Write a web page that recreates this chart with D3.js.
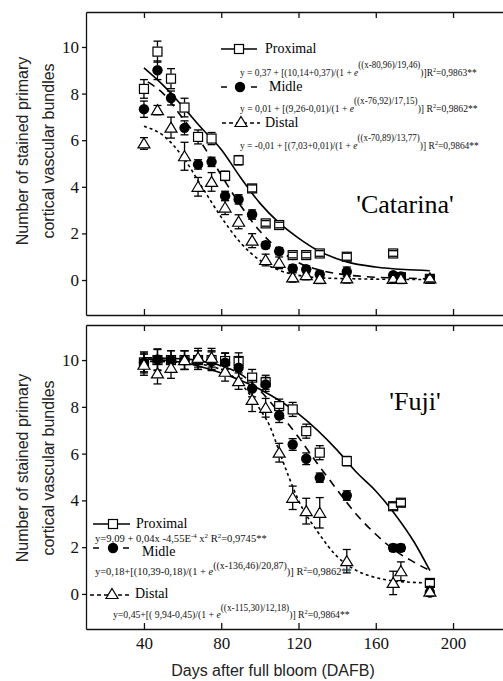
<!DOCTYPE html>
<html>
<head>
<meta charset="utf-8">
<script src="https://cdn.jsdelivr.net/npm/d3@7"></script>
<style>
body{margin:0;background:#fff;}
svg{display:block;}
</style>
</head>
<body>
<div id="chart"></div>
<script>
// sampling days (DAFB)
var days = [40, 47, 54, 61, 68, 75, 82, 89, 96, 103, 110, 117, 124, 131, 145, 169, 173, 188];

// 'Catarina'
var catProx    = [8.2, 9.8, 8.64, 7.4, 6.14, 6.07, 4.47, 5.14, 3.93, 2.43, 2.36, 1.07, 1.07, 1.14, 1.0, 1.14, 0.12, 0.05];
var catProxErr = [0.4, 0.45, 0.43, 0.4, 0.3, 0.26, 0.2, 0.2, 0.15, 0.12, 0.12, 0.12, 0.12, 0.12, 0.15, 0.12, 0.12, 0.1];
var catMid     = [7.33, 9.0, 7.81, 6.53, 4.96, 5.07, 3.61, 3.46, 2.81, 1.5, 1.24, 0.5, 0.46, 0.24, 0.36, 0.21, 0.15, 0.05];
var catMidErr  = [0.35, 0.4, 0.3, 0.3, 0.2, 0.2, 0.2, 0.2, 0.2, 0.15, 0.15, 0.15, 0.15, 0.15, 0.2, 0.1, 0.1, 0.1];
var catDist    = [5.86, 7.29, 6.54, 5.31, 4.0, 4.21, 3.11, 2.5, 1.69, 0.86, 0.74, 0.11, 0.21, 0.05, 0.07, 0.05, 0.05, 0.07];
var catDistErr = [0.25, 0.2, 0.45, 0.6, 0.4, 0.4, 0.3, 0.3, 0.3, 0.25, 0.25, 0.2, 0.2, 0.2, 0.2, 0.15, 0.2, 0.15];

// 'Fuji'
var fujiProx    = [9.9, 10.0, 10.0, 10.0, 10.0, 10.0, 9.96, 9.96, 9.25, 9.05, 8.03, 7.89, 6.96, 6.04, 5.68, 3.75, 3.9, 0.47];
var fujiProxErr = [0.45, 0.45, 0.4, 0.4, 0.4, 0.4, 0.35, 0.35, 0.35, 0.3, 0.3, 0.3, 0.3, 0.3, 0.2, 0.15, 0.15, 0.15];
var fujiMid     = [9.9, 10.03, 10.0, 10.0, 10.0, 9.95, 9.89, 9.67, 8.78, 8.96, 7.63, 6.39, 5.78, 4.97, 4.21, 1.97, 1.97, 0.06];
var fujiMidErr  = [0.4, 0.45, 0.4, 0.4, 0.4, 0.4, 0.4, 0.45, 0.35, 0.3, 0.3, 0.25, 0.25, 0.2, 0.2, 0.15, 0.15, 0.15];
var fujiDist    = [9.8, 9.43, 9.67, 10.0, 10.1, 10.1, 9.5, 9.1, 8.3, 7.96, 6.04, 4.11, 3.54, 3.47, 1.4, 0.47, 0.97, 0.1];
var fujiDistErr = [0.45, 0.45, 0.45, 0.4, 0.4, 0.4, 0.4, 0.35, 0.5, 0.4, 0.4, 0.5, 0.55, 0.65, 0.5, 0.5, 0.4, 0.2];

// fitted curves
var catProxCurveDays = [40, 50, 60, 70, 80, 90, 100, 110, 120, 130, 145, 160, 175, 188];
var catProxCurve     = [9.1, 8.35, 7.45, 6.5, 5.6, 4.4, 3.3, 2.45, 1.8, 1.27, 0.78, 0.56, 0.45, 0.4];
var catMidCurveDays  = [42, 50, 60, 70, 80, 90, 100, 110, 120, 130, 145, 160, 175, 188];
var catMidCurve      = [8.5, 8.0, 6.95, 5.85, 4.5, 3.2, 2.1, 1.3, 0.75, 0.45, 0.22, 0.12, 0.08, 0.05];
var catDistCurveDays = [40, 50, 60, 70, 80, 90, 100, 110, 120, 130, 150, 170, 188];
var catDistCurve     = [6.6, 6.2, 5.3, 4.0, 2.7, 1.6, 0.85, 0.42, 0.2, 0.1, 0.05, 0.03, 0.02];

var fujiProxCurveDays = [40, 60, 80, 100, 120, 140, 150, 160, 170, 180, 188];
var fujiProxCurve     = [10.05, 9.9, 9.45, 8.75, 7.7, 6.15, 5.2, 4.4, 3.4, 2.2, 1.0];
var fujiMidCurveDays  = [40, 60, 80, 90, 100, 110, 120, 130, 140, 150, 160, 170, 180, 188];
var fujiMidCurve      = [10.1, 10.05, 9.75, 9.4, 8.7, 7.75, 6.7, 5.55, 4.45, 3.4, 2.55, 1.85, 1.35, 1.0];
var fujiDistCurveDays = [40, 60, 80, 90, 100, 105, 110, 115, 120, 130, 140, 150, 160, 170, 188];
var fujiDistCurve     = [9.95, 9.9, 9.6, 9.0, 7.9, 7.2, 6.1, 5.0, 4.0, 2.65, 1.6, 1.0, 0.7, 0.55, 0.47];

var xTicks = [40, 80, 120, 160, 200];
var yTicks = [0, 2, 4, 6, 8, 10];
var seriesNames = ["Proximal", "Midle", "Distal"];

// equation texts: [text, kind] kind: n normal, e italic e, s superscript, r small superscript
var catEqs = [
  [["y = 0,37 + [(10,14+0,37)/(1 + ","n"],["e","e"],["((x-80,96)/19,46)","s"],[")]R","n"],["2","r"],["=0,9863**","n"]],
  [["y = 0,01 + [(9,26-0,01)/(1 + ","n"],["e","e"],["((x-76,92)/17,15)","s"],[")]   R","n"],["2","r"],["=0,9862**","n"]],
  [["y = -0,01 + [(7,03+0,01)/(1 + ","n"],["e","e"],["((x-70,89)/13,77)","s"],[")] R","n"],["2","r"],["=0,9864**","n"]]
];
var fujiEqs = [
  [["y=9,09 + 0,04x -4,55E","n"],["-4","r"],[" x","n"],["2","r"],["  R","n"],["2","r"],["=0,9745**","n"]],
  [["y=0,18+[(10,39-0,18)/(1 + ","n"],["e","e"],["((x-136,46)/20,87)","s"],[")] R","n"],["2","r"],["=0,9862**","n"]],
  [["y=0,45+[( 9,94-0,45)/(1 + ","n"],["e","e"],["((x-115,30)/12,18)","s"],[")]  R","n"],["2","r"],["=0,9864**","n"]]
];

var W = 503, H = 681;
var serif = "'Liberation Serif', 'Times New Roman', serif";
var sans = "'Liberation Sans', Arial, sans-serif";

var svg = d3.select("#chart").append("svg")
  .attr("width", W)
  .attr("height", H);

var x = d3.scaleLinear().domain([10, 230]).range([86, 511]);
var yTop = d3.scaleLinear().domain([-1.5, 11.5]).range([315, 12]);
var yBot = d3.scaleLinear().domain([-1.5, 11.5]).range([629, 325]);

function marker(g, type, cx, cy){
  if(type == 0){
    g.append("rect").attr("x", cx - 4.5).attr("y", cy - 4.5).attr("width", 9).attr("height", 9)
      .attr("fill", "#fff").attr("stroke", "#000").attr("stroke-width", 1.2);
  }
  else if(type == 1){
    g.append("circle").attr("cx", cx).attr("cy", cy).attr("r", 5.2).attr("fill", "#000");
  }
  else{
    g.append("path")
      .attr("d", "M" + cx + "," + (cy - 5.5) + "L" + (cx + 6) + "," + (cy + 4.5) + "L" + (cx - 6) + "," + (cy + 4.5) + "Z")
      .attr("fill", "#fff").attr("stroke", "#000").attr("stroke-width", 1.2);
  }
}

var dashes = [null, "8,6", "3,3"];

function drawPanel(y, vals, errs, cDays, cVals, showLabels){
  var g = svg.append("g");

  // axes
  var left = g.append("g").attr("transform", "translate(86,0)")
    .call(d3.axisLeft(y).tickValues(yTicks).tickSize(4).tickSizeOuter(0).tickPadding(3));
  left.attr("font-family", serif).attr("font-size", 17);
  left.selectAll("text").style("font-family", serif).style("font-size", "17px").attr("fill", "#111");

  var r = y.range();
  g.append("g").attr("transform", "translate(0," + r[1] + ")")
    .call(d3.axisBottom(x).tickValues(xTicks).tickSize(6).tickSizeOuter(0).tickFormat(""));
  var bottom = g.append("g").attr("transform", "translate(0," + r[0] + ")")
    .call(d3.axisBottom(x).tickValues(xTicks).tickSize(-6).tickSizeOuter(0).tickPadding(8)
      .tickFormat(showLabels ? d3.format("d") : ""));
  bottom.attr("font-family", serif).attr("font-size", 17);
  bottom.selectAll("text").style("font-family", serif).style("font-size", "17px").attr("fill", "#111");
  g.selectAll(".domain, .tick line").attr("stroke", "#111").attr("stroke-width", 1.3);

  // fitted curves
  for(var s = 0; s < 3; s++){
    var pts = cDays[s].map(function(d, i){ return [d, cVals[s][i]]; });
    var line = d3.line()
      .x(function(d){ return x(d[0]); })
      .y(function(d){ return y(d[1]); })
      .curve(d3.curveMonotoneX);
    g.append("path").datum(pts)
      .attr("d", line)
      .attr("fill", "none")
      .attr("stroke", "#000")
      .attr("stroke-width", 1.6)
      .attr("stroke-dasharray", dashes[s]);
  }

  // markers then error bars
  for(var s = 0; s < 3; s++){
    var mg = g.append("g");
    for(var i = 0; i < days.length; i++){
      marker(mg, s, x(days[i]), y(vals[s][i]));
    }
    for(var i = 0; i < days.length; i++){
      var cx = x(days[i]), cy = y(vals[s][i]);
      var y1 = y(vals[s][i] + errs[s][i]), y2 = y(vals[s][i] - errs[s][i]);
      var eb = mg.append("g").attr("stroke", "#000").attr("stroke-width", 1.3);
      if(y1 < cy - 5) eb.append("line").attr("x1", cx).attr("x2", cx).attr("y1", y1).attr("y2", cy - 5);
      if(y2 > cy + 5) eb.append("line").attr("x1", cx).attr("x2", cx).attr("y1", cy + 5).attr("y2", y2);
      eb.append("line").attr("x1", cx - 4).attr("x2", cx + 4).attr("y1", y1).attr("y2", y1);
      eb.append("line").attr("x1", cx - 4).attr("x2", cx + 4).attr("y1", y2).attr("y2", y2);
    }
  }
  return g;
}

function legendItem(g, s, x1, x2, mx, ly, tx, ty, name){
  var ln = g.append("line").attr("x1", x1).attr("x2", x2).attr("y1", ly).attr("y2", ly)
    .attr("stroke", "#000").attr("stroke-width", 1.5);
  if(s == 1) ln.attr("stroke-dasharray", "6," + (x2 - x1 - 12));
  if(s == 2) ln.attr("stroke-dasharray", "4,3");
  marker(g, s, mx, s == 2 ? ly - 1 : ly);
  g.append("text").attr("x", tx).attr("y", ty).style("font-family", serif).style("font-size", "14px")
    .text(name);
}

function equation(g, parts, ex, ey, width, supRaise){
  var t = g.append("text").style("font-family", serif).style("font-size", "10px").attr("fill", "#111");
  var shift = 0;
  parts.forEach(function(p){
    var sp = t.append("tspan").text(p[0]);
    var want = 0;
    if(p[1] == "e") sp.style("font-style", "italic");
    if(p[1] == "s"){ want = -supRaise; sp.style("font-size", "9.5px"); }
    if(p[1] == "r"){ want = -4; sp.style("font-size", "6.5px"); }
    sp.attr("dy", want - shift);
    shift = want;
  });
  var w0 = t.node().getComputedTextLength();
  t.attr("transform", "translate(" + ex + "," + ey + ") scale(" + (width / w0) + ",1)");
}

// top panel: 'Catarina'
var topPanel = drawPanel(yTop, [catProx, catMid, catDist], [catProxErr, catMidErr, catDistErr],
  [catProxCurveDays, catMidCurveDays, catDistCurveDays], [catProxCurve, catMidCurve, catDistCurve], false);
legendItem(topPanel, 0, 221, 257, 239, 49, 265, 53, seriesNames[0]);
legendItem(topPanel, 1, 221, 257, 240, 87, 269, 91, seriesNames[1]);
legendItem(topPanel, 2, 222, 260, 241, 123, 265, 127, seriesNames[2]);
equation(topPanel, catEqs[0], 240, 76, 237, 8);
equation(topPanel, catEqs[1], 240, 112, 238, 8);
equation(topPanel, catEqs[2], 240, 149, 239, 8);
topPanel.append("text").attr("x", 405).attr("y", 213).attr("text-anchor", "middle")
  .style("font-family", serif).style("font-size", "26px").text("'Catarina'");

// bottom panel: 'Fuji'
var botPanel = drawPanel(yBot, [fujiProx, fujiMid, fujiDist], [fujiProxErr, fujiMidErr, fujiDistErr],
  [fujiProxCurveDays, fujiMidCurveDays, fujiDistCurveDays], [fujiProxCurve, fujiMidCurve, fujiDistCurve], true);
legendItem(botPanel, 0, 93, 130, 113, 524, 136, 528, seriesNames[0]);
legendItem(botPanel, 1, 93, 129, 113, 548, 142, 556, seriesNames[1]);
legendItem(botPanel, 2, 90, 132, 112, 595, 135, 598, seriesNames[2]);
equation(botPanel, fujiEqs[0], 95, 542, 172, 6);
equation(botPanel, fujiEqs[1], 95, 575, 257, 6);
equation(botPanel, fujiEqs[2], 113, 618, 237, 7);
botPanel.append("text").attr("x", 415).attr("y", 410).attr("text-anchor", "middle")
  .style("font-family", serif).style("font-size", "26px").text("'Fuji'");

// axis titles
[151, 468].forEach(function(cy){
  svg.append("text").attr("transform", "translate(28," + cy + ") rotate(-90)")
    .attr("text-anchor", "middle").style("font-family", sans).style("font-size", "16px").attr("fill", "#222")
    .text("Number of stained primary");
  svg.append("text").attr("transform", "translate(54," + cy + ") rotate(-90)")
    .attr("text-anchor", "middle").style("font-family", sans).style("font-size", "16px").attr("fill", "#222")
    .text("cortical vascular bundles");
});
svg.append("text").attr("x", 273).attr("y", 676).attr("text-anchor", "middle")
  .style("font-family", sans).style("font-size", "16px").attr("fill", "#222")
  .text("Days after full bloom (DAFB)");
</script>
</body>
</html>
